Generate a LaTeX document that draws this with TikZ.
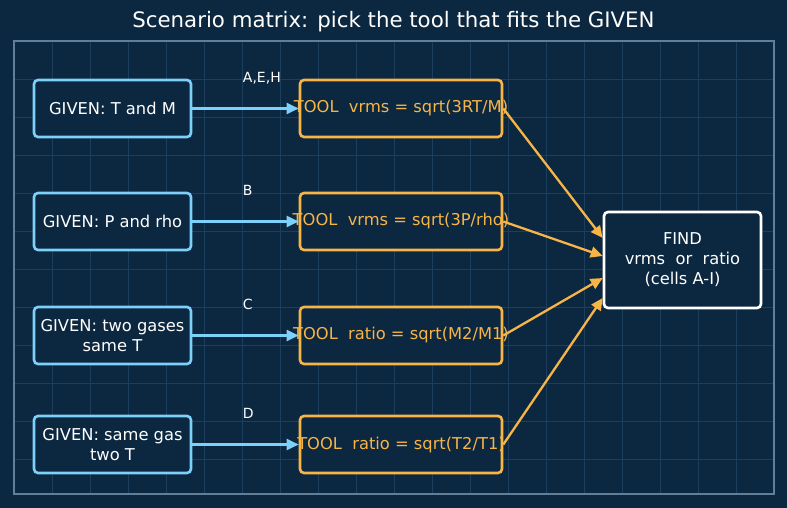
\documentclass[tikz,border=0pt]{standalone}
\usepackage{fontspec}
\setmainfont{DejaVu Sans}
\usetikzlibrary{arrows.meta}

\definecolor{bg}{HTML}{0C2740}
\definecolor{gridc}{HTML}{1D3F5E}
\definecolor{framec}{HTML}{5F7F9B}
\definecolor{givenc}{HTML}{7DD0FA}
\definecolor{toolc}{HTML}{F7B548}

\begin{document}
\begin{tikzpicture}[x=1pt,y=-1pt,
  box/.style={rounded corners=4pt,line width=2.6pt,fill=bg,inner sep=0pt},
  given/.style={box,draw=givenc,minimum width=157pt,minimum height=57pt,
    text=white,align=center,font=\fontsize{16.3}{19.5}\selectfont},
  tool/.style={box,draw=toolc,minimum width=202pt,minimum height=57pt},
  tooltxt/.style={text=toolc,inner sep=0pt,font=\fontsize{16.3}{19.5}\selectfont},
  find/.style={box,draw=white,minimum width=157pt,minimum height=96pt,
    text=white,align=center,font=\fontsize{16.3}{20}\selectfont},
  elab/.style={text=white,inner sep=0pt,anchor=base west,yshift=26pt,
    font=\fontsize{14}{16}\selectfont},
  garr/.style={givenc,line width=2.3pt,-{Triangle[length=12pt,width=11pt]}},
  tarr/.style={toolc,line width=2.3pt,-{Triangle[length=12pt,width=11pt]}}]

% background and grid
\fill[bg] (0,0) rectangle (787,508);
\foreach \x in {52,90,...,740}
  \draw[gridc,line width=0.7pt] (\x,41) -- (\x,494);
\foreach \y in {79,117,...,460}
  \draw[gridc,line width=0.7pt] (14,\y) -- (774,\y);
\draw[framec,line width=1.4pt] (14,41) rectangle (774,494);

\node[text=white,font=\fontsize{21.3}{25}\selectfont] (title) at (393.5,22)
  {Scenario matrix: pick the tool that fits the GIVEN};

\node[given] (g1) at (112.5,108.5) {GIVEN: T and M};
\node[given] (g2) at (112.5,221.5) {GIVEN: P and rho};
\node[given] (g3) at (112.5,335.5) {GIVEN: two gases\\same T};
\node[given] (g4) at (112.5,444.5) {GIVEN: same gas\\two T};

\node[tool,label={[tooltxt]center:TOOL~~vrms = sqrt(3RT/M)}] (t1) at (401,108.5) {};
\node[tool,label={[tooltxt]center:TOOL~~vrms = sqrt(3P/rho)}] (t2) at (401,221.5) {};
\node[tool,label={[tooltxt]center:TOOL~~ratio = sqrt(M2/M1)}] (t3) at (401,335.5) {};
\node[tool,label={[tooltxt]center:TOOL~~ratio = sqrt(T2/T1)}] (t4) at (401,444.5) {};

\node[find] (f) at (682.5,260) {FIND\\vrms~~or~~ratio\\(cells A-I)};

\foreach \from/\to/\lab in {g1/t1/{A,E,H},g2/t2/B,g3/t3/C,g4/t4/D}
\draw[garr] (\from) -- node[elab,pos=0.465] {\lab} (\to);

\foreach \from/\dy in {t1/22,t2/4,t3/-18,t4/-38}
\draw[tarr] (\from.east) -- ([yshift=\dy pt]f.west);
\end{tikzpicture}
\end{document}
